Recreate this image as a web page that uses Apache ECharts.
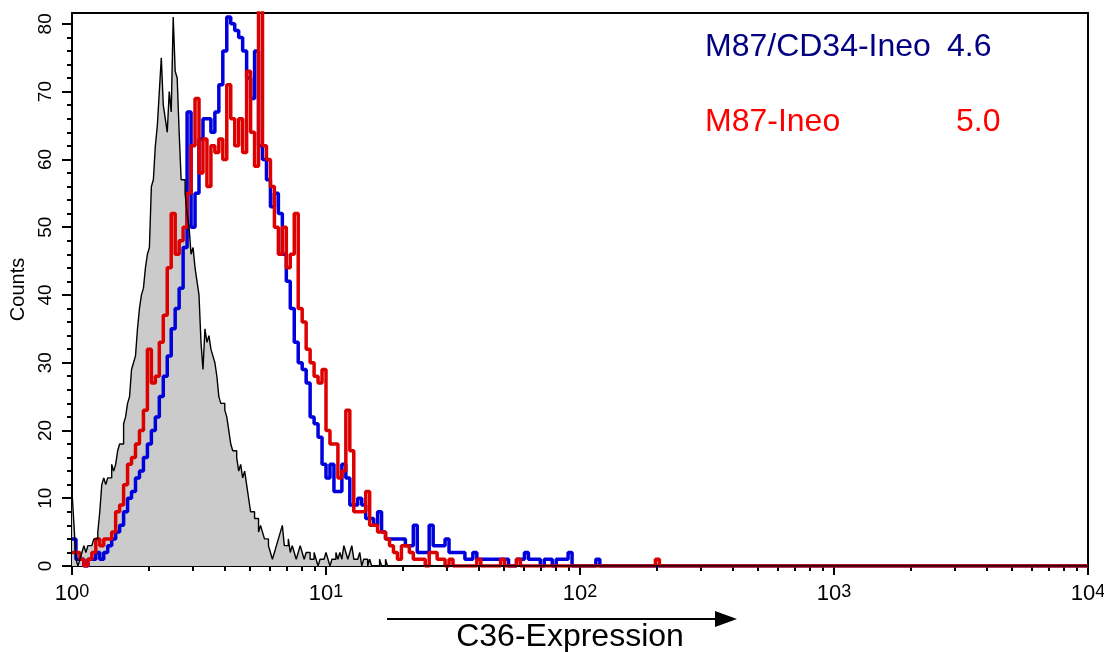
<!DOCTYPE html>
<html>
<head>
<meta charset="utf-8">
<title>C36-Expression histogram</title>
<script src="https://cdn.jsdelivr.net/npm/echarts@6/dist/echarts.min.js"></script>
<style>
  html, body { margin: 0; padding: 0; background: #fff; }
  #main { width: 1104px; height: 652px; }
</style>
</head>
<body>
<div id="main"></div>
<script>
// 4 decades, counts per channel
const blueChannels = 256;
const redChannels = 256;
const blackChannels = 512;

// M87/CD34-Ineo (blue)
const blueCounts = [
  4, 1, 1, 0, 1, 1, 2, 1, 2, 3, 4, 5, 6, 8, 10, 11, 13, 14, 16, 18,
  20, 22, 25, 28, 31, 35, 38, 41, 47, 67, 50, 55, 63, 66, 66, 64, 67, 71, 76, 81,
  80, 79, 78, 76, 72, 69, 76, 62, 60, 57, 53, 55, 52, 46, 42, 38, 33, 30, 29, 27,
  22, 21, 19, 15, 13, 15, 11, 11, 15, 13, 9, 9, 10, 9, 7, 7, 6, 8, 5, 4,
  4, 4, 4, 4, 3, 3, 6, 2, 2, 2, 6, 3, 3, 3, 4, 2, 2, 2, 2, 1,
  1, 2, 1, 1, 1, 1, 1, 1, 1, 1, 0, 0, 1, 1, 2, 1, 1, 1, 0, 1,
  1, 0, 1, 1, 1, 2, 0, 0, 0, 0, 0, 0, 1
];

// M87-Ineo (red)
const redCounts = [
  2, 2, 1, 0, 1, 2, 4, 3, 4, 4, 5, 8, 9, 12, 15, 16, 18, 20, 23, 32,
  27, 28, 33, 37, 44, 52, 46, 48, 50, 55, 62, 69, 58, 63, 56, 62, 61, 63, 60, 71,
  66, 62, 66, 61, 73, 64, 59, 84, 62, 60, 56, 50, 46, 50, 44, 46, 52, 38, 36, 32,
  30, 28, 27, 29, 20, 18, 18, 13, 14, 23, 17, 8, 8, 8, 11, 6, 6, 5, 5, 4,
  3, 2, 1, 3, 3, 2, 1, 1, 1, 0, 2, 2, 1, 1, 0, 1, 0, 0, 0, 0,
  0, 0, 1, 0, 0, 0, 0, 0, 1, 0, 0, 0, 1, 0, 0, 0, 0, 0, 0, 0,
  0, 0, 0, 0, 0, 0, 0, 0, 0, 0, 0, 0, 0, 0, 0, 0, 0, 0, 0, 0,
  0, 0, 0, 0, 0, 0, 0, 1
];

// control (black outline, grey fill)
const blackCounts = [
  11, 6, 1, 0, 1, 2, 3, 2, 3, 3, 3, 4, 4, 5, 8, 12, 13, 12, 13, 13,
  15, 14, 15, 17, 18, 18, 21, 22, 24, 25, 29, 30, 31, 35, 38, 40, 41, 44, 46, 47,
  56, 57, 62, 65, 70, 75, 68, 66, 64, 70, 67, 81, 73, 72, 64, 57, 57, 55, 52, 50,
  46, 47, 44, 42, 40, 33, 29, 35, 33, 34, 32, 31, 30, 28, 25, 24, 24, 23, 22, 20,
  18, 17, 17, 16, 14, 15, 13, 14, 12, 10, 8, 8, 7, 7, 5, 6, 5, 4, 4, 3,
  2, 1, 2, 3, 4, 5, 6, 3, 3, 4, 2, 3, 2, 1, 2, 3, 2, 1, 2, 2,
  1, 1, 2, 1, 0, 1, 1, 1, 2, 1, 0, 1, 1, 2, 1, 2, 1, 3, 2, 1,
  2, 3, 1, 1, 1, 2, 0, 1, 1, 0, 1, 0, 0, 0, 0, 1, 0, 0, 1, 0,
  0, 0
];

const xMajorTicks = [1, 10, 100, 1000, 10000];
const xMinorTicks = [
  2, 3, 4, 5, 6, 7, 8, 9,
  20, 30, 40, 50, 60, 70, 80, 90,
  200, 300, 400, 500, 600, 700, 800, 900,
  2000, 3000, 4000, 5000, 6000, 7000, 8000, 9000
];
const yMajorTicks = [0, 10, 20, 30, 40, 50, 60, 70, 80];
const yMinorTicks = [
  2, 4, 6, 8, 12, 14, 16, 18, 22, 24, 26, 28, 32, 34, 36, 38,
  42, 44, 46, 48, 52, 54, 56, 58, 62, 64, 66, 68, 72, 74, 76, 78
];

const legendRows = [
  { name: 'M87/CD34-Ineo', value: '4.6', color: '#000080' },
  { name: 'M87-Ineo', value: '5.0', color: '#ff0000' }
];

// channel k -> expression value on the 10^0..10^4 scale
function toSteps(counts, nChan) {
  var pts = counts.map(function (c, k) {
    return [Math.pow(10, 4 * k / nChan), c];
  });
  pts.push([Math.pow(10, 4 * counts.length / nChan), 0]);
  pts.push([10000, 0]);
  return pts;
}

var chartDom = document.getElementById('main');
var myChart = echarts.init(chartDom, null, { renderer: 'canvas' });
var option;

var font = 'Liberation Sans';
var legendFont = '32px "Liberation Sans"';

option = {
  animation: false,
  backgroundColor: '#fff',
  textStyle: { fontFamily: font },
  grid: {
    left: 72,
    right: 16,
    top: 13,
    bottom: 86,
    outerBoundsMode: 'none',
    containLabel: false,
    show: true,
    borderColor: '#000',
    borderWidth: 2
  },
  xAxis: [
    {
      type: 'log',
      logBase: 10,
      min: 1,
      max: 10000,
      name: 'C36-Expression',
      nameLocation: 'middle',
      nameGap: 55,
      nameTextStyle: { fontSize: 32, color: '#000', padding: [0, 20, 0, 0] },
      axisLine: { show: true, onZero: false, lineStyle: { color: '#000', width: 2 } },
      axisTick: { show: true, length: 9, customValues: xMajorTicks, lineStyle: { color: '#000', width: 2 } },
      axisLabel: {
        customValues: xMajorTicks,
        margin: 17,
        formatter: function (v) {
          return '{b|10}{s|' + Math.round(Math.log10(v)) + '}';
        },
        rich: {
          b: { fontSize: 22, color: '#000', fontFamily: font, verticalAlign: 'bottom', lineHeight: 22 },
          s: { fontSize: 18, color: '#000', fontFamily: font, verticalAlign: 'top', lineHeight: 18, padding: [0, 0, 9, 0] }
        }
      },
      splitLine: { show: false },
      minorTick: { show: false }
    },
    {
      type: 'log',
      logBase: 10,
      min: 1,
      max: 10000,
      position: 'bottom',
      axisLine: { show: false },
      axisTick: { show: true, length: 5, customValues: xMinorTicks, lineStyle: { color: '#000', width: 2 } },
      axisLabel: { show: false },
      splitLine: { show: false }
    }
  ],
  yAxis: [
    {
      type: 'value',
      min: 0,
      max: 81.6,
      name: 'Counts',
      nameLocation: 'middle',
      nameGap: 42,
      nameRotate: 90,
      nameTextStyle: { fontSize: 20, color: '#000' },
      axisLine: { show: true, lineStyle: { color: '#000', width: 2 } },
      axisTick: { show: true, length: 10, customValues: yMajorTicks, lineStyle: { color: '#000', width: 2 } },
      axisLabel: { customValues: yMajorTicks, rotate: 90, fontSize: 19, color: '#000', margin: 17 },
      splitLine: { show: false }
    },
    {
      type: 'value',
      min: 0,
      max: 81.6,
      position: 'left',
      axisLine: { show: false },
      axisTick: { show: true, length: 5, customValues: yMinorTicks, lineStyle: { color: '#000', width: 2 } },
      axisLabel: { show: false },
      splitLine: { show: false }
    }
  ],
  graphic: [
    { type: 'text', left: 705, top: 31, style: { text: legendRows[0].name, fill: legendRows[0].color, font: legendFont } },
    { type: 'text', left: 947, top: 31, style: { text: legendRows[0].value, fill: legendRows[0].color, font: legendFont } },
    { type: 'text', left: 705, top: 106, style: { text: legendRows[1].name, fill: legendRows[1].color, font: legendFont } },
    { type: 'text', left: 956, top: 106, style: { text: legendRows[1].value, fill: legendRows[1].color, font: legendFont } },
    { type: 'line', shape: { x1: 387, y1: 619, x2: 718, y2: 619 }, style: { stroke: '#000', lineWidth: 2 } },
    { type: 'polygon', shape: { points: [[715, 611], [737, 619], [715, 627]] }, style: { fill: '#000' } }
  ],
  series: [
    {
      name: 'control fill',
      type: 'line',
      step: 'end',
      symbol: 'none',
      data: toSteps(blackCounts, blackChannels),
      lineStyle: { width: 0 },
      areaStyle: { color: '#cbcbcb', opacity: 1 },
      z: 1
    },
    {
      name: 'M87/CD34-Ineo',
      type: 'line',
      step: 'end',
      symbol: 'none',
      data: toSteps(blueCounts, blueChannels),
      lineStyle: { color: '#0000dd', width: 3.5 },
      z: 2
    },
    {
      name: 'M87-Ineo',
      type: 'line',
      step: 'end',
      symbol: 'none',
      data: toSteps(redCounts, redChannels),
      lineStyle: { color: '#dd0000', width: 3.5 },
      z: 3
    },
    {
      name: 'control',
      type: 'line',
      step: 'end',
      symbol: 'none',
      data: toSteps(blackCounts, blackChannels),
      lineStyle: { color: '#000', width: 1.4 },
      z: 4
    }
  ]
};

myChart.setOption(option);
</script>
</body>
</html>
